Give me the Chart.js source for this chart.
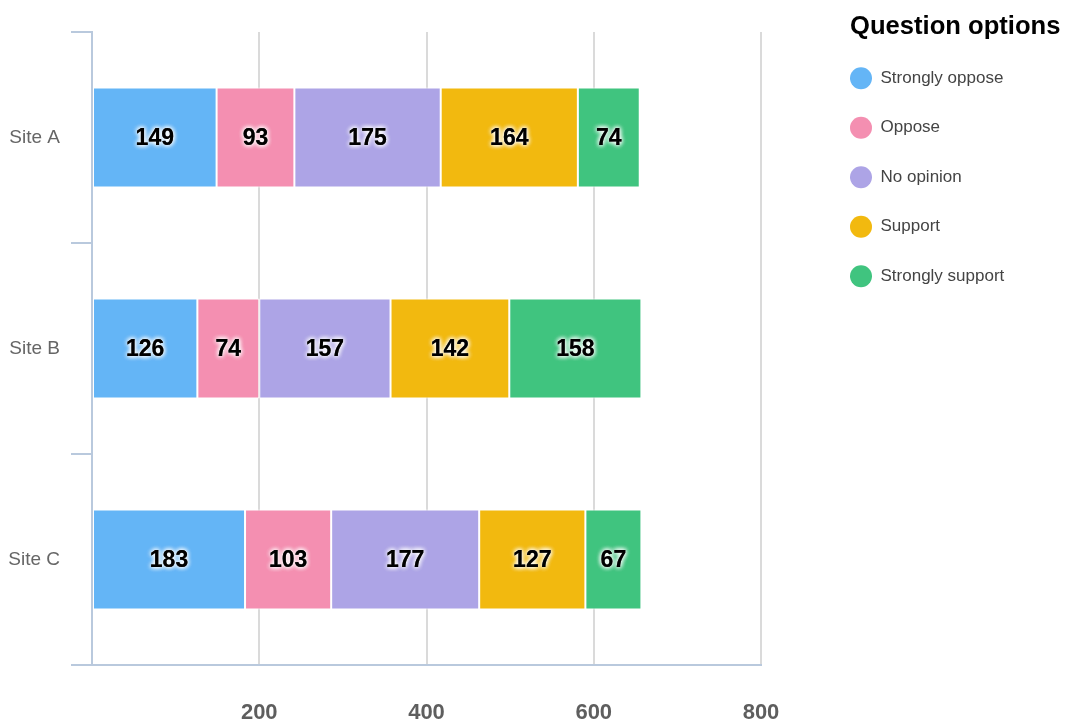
<!DOCTYPE html>
<html>
<head>
<meta charset="utf-8">
<script src="https://cdn.jsdelivr.net/npm/chart.js@4/dist/chart.umd.min.js"></script>
<style>
  html,body{margin:0;background:#fff}
  #wrap{width:1068px;height:722px;position:relative}
</style>
</head>
<body>
<div id="wrap"><canvas id="chart"></canvas></div>
<script>
const sites=['Site A','Site B','Site C'];
const optionNames=['Strongly oppose','Oppose','No opinion','Support','Strongly support'];
const optionColors=['#64b5f6','#f48fb1','#ada4e6','#f2b90f','#40c47f'];
const stronglyOppose=[149,126,183];
const oppose=[93,74,103];
const noOpinion=[175,157,177];
const support=[164,142,127];
const stronglySupport=[74,158,67];
const xTickValues=[200,400,600,800];

const axisBlue='#b9c9dd';
Chart.defaults.font.family='"Liberation Sans", Arial, sans-serif';

// value printed in the middle of each segment, black with a white glow
const segmentLabels={
  id:'segmentLabels',
  afterDatasetsDraw(chart){
    const ctx=chart.ctx;
    ctx.save();
    ctx.font='bold 23px "Liberation Sans", Arial, sans-serif';
    ctx.textAlign='center';ctx.textBaseline='middle';
    chart.data.datasets.forEach((ds,i)=>{
      chart.getDatasetMeta(i).data.forEach((bar,j)=>{
        const x=(bar.x+bar.base)/2,y=bar.y+1.5,text=String(ds.data[j]);
        ctx.shadowColor='#fff';ctx.shadowBlur=5;ctx.fillStyle='#000';
        for(let k=0;k<3;k++)ctx.fillText(text,x,y);
      });
    });
    ctx.restore();
  }
};

// legend box is clipped, so make it wide enough for its title
const legendWidth={
  id:'legendWidth',
  beforeLayout(chart){
    const legend=chart.legend;
    if(!legend||legend._widened)return;
    const fit=legend.fit;
    legend.fit=function(){fit.call(this);this.width=Math.max(this.width,216);};
    legend._widened=true;
  }
};

const seriesValues=[stronglyOppose,oppose,noOpinion,support,stronglySupport];
const datasets=optionNames.map((name,i)=>({
  label:name,data:seriesValues[i],backgroundColor:optionColors[i],
  borderColor:'#fff',borderWidth:1,borderSkipped:false,
  xAxisID:'x',yAxisID:'y',barPercentage:1,categoryPercentage:0.474
}));

new Chart(document.getElementById('chart'),{
  type:'bar',
  data:{labels:sites,datasets},
  plugins:[segmentLabels,legendWidth],
  options:{
    indexAxis:'y',responsive:true,maintainAspectRatio:false,animation:false,
    layout:{padding:{left:0,right:2,top:0,bottom:0}},
    plugins:{
      tooltip:{enabled:false},
      legend:{
        position:'right',align:'start',
        title:{display:true,text:'Question options',position:'start',color:'#000',
          font:{size:25.6,weight:'bold'},padding:{top:14,bottom:22.5}},
        labels:{
          color:'#444',boxWidth:22,boxHeight:22,padding:0,
          font:{size:17,lineHeight:'49.5px'},
          generateLabels:chart=>Chart.defaults.plugins.legend.labels.generateLabels(chart)
            .map(item=>({...item,text:[item.text],lineWidth:0,borderRadius:11}))
        }
      }
    },
    scales:{
      x:{
        stacked:true,min:0,max:800,
        grid:{drawTicks:false,lineWidth:2,color:c=>c.tick&&c.tick.value===0?'rgba(0,0,0,0)':'#dadada'},
        border:{color:axisBlue,width:2},
        ticks:{stepSize:200,padding:35,color:'#5e5e5e',font:{size:22,weight:'bold'},
          callback:v=>xTickValues.includes(v)?String(v):''},
        afterFit:s=>{s.height=57;}
      },
      y:{
        stacked:true,
        grid:{drawOnChartArea:false,tickLength:21,color:axisBlue,lineWidth:2},
        border:{color:axisBlue,width:2},
        ticks:{padding:11,color:'#666',font:{size:19,lineHeight:1.4}},
        afterFit:s=>{s.width=92;s.paddingTop=32;}
      },
      y2:{
        type:'linear',position:'right',display:true,
        grid:{display:false},border:{display:false},ticks:{display:false},
        afterFit:s=>{s.width=89;}
      }
    }
  }
});
</script>
</body>
</html>
